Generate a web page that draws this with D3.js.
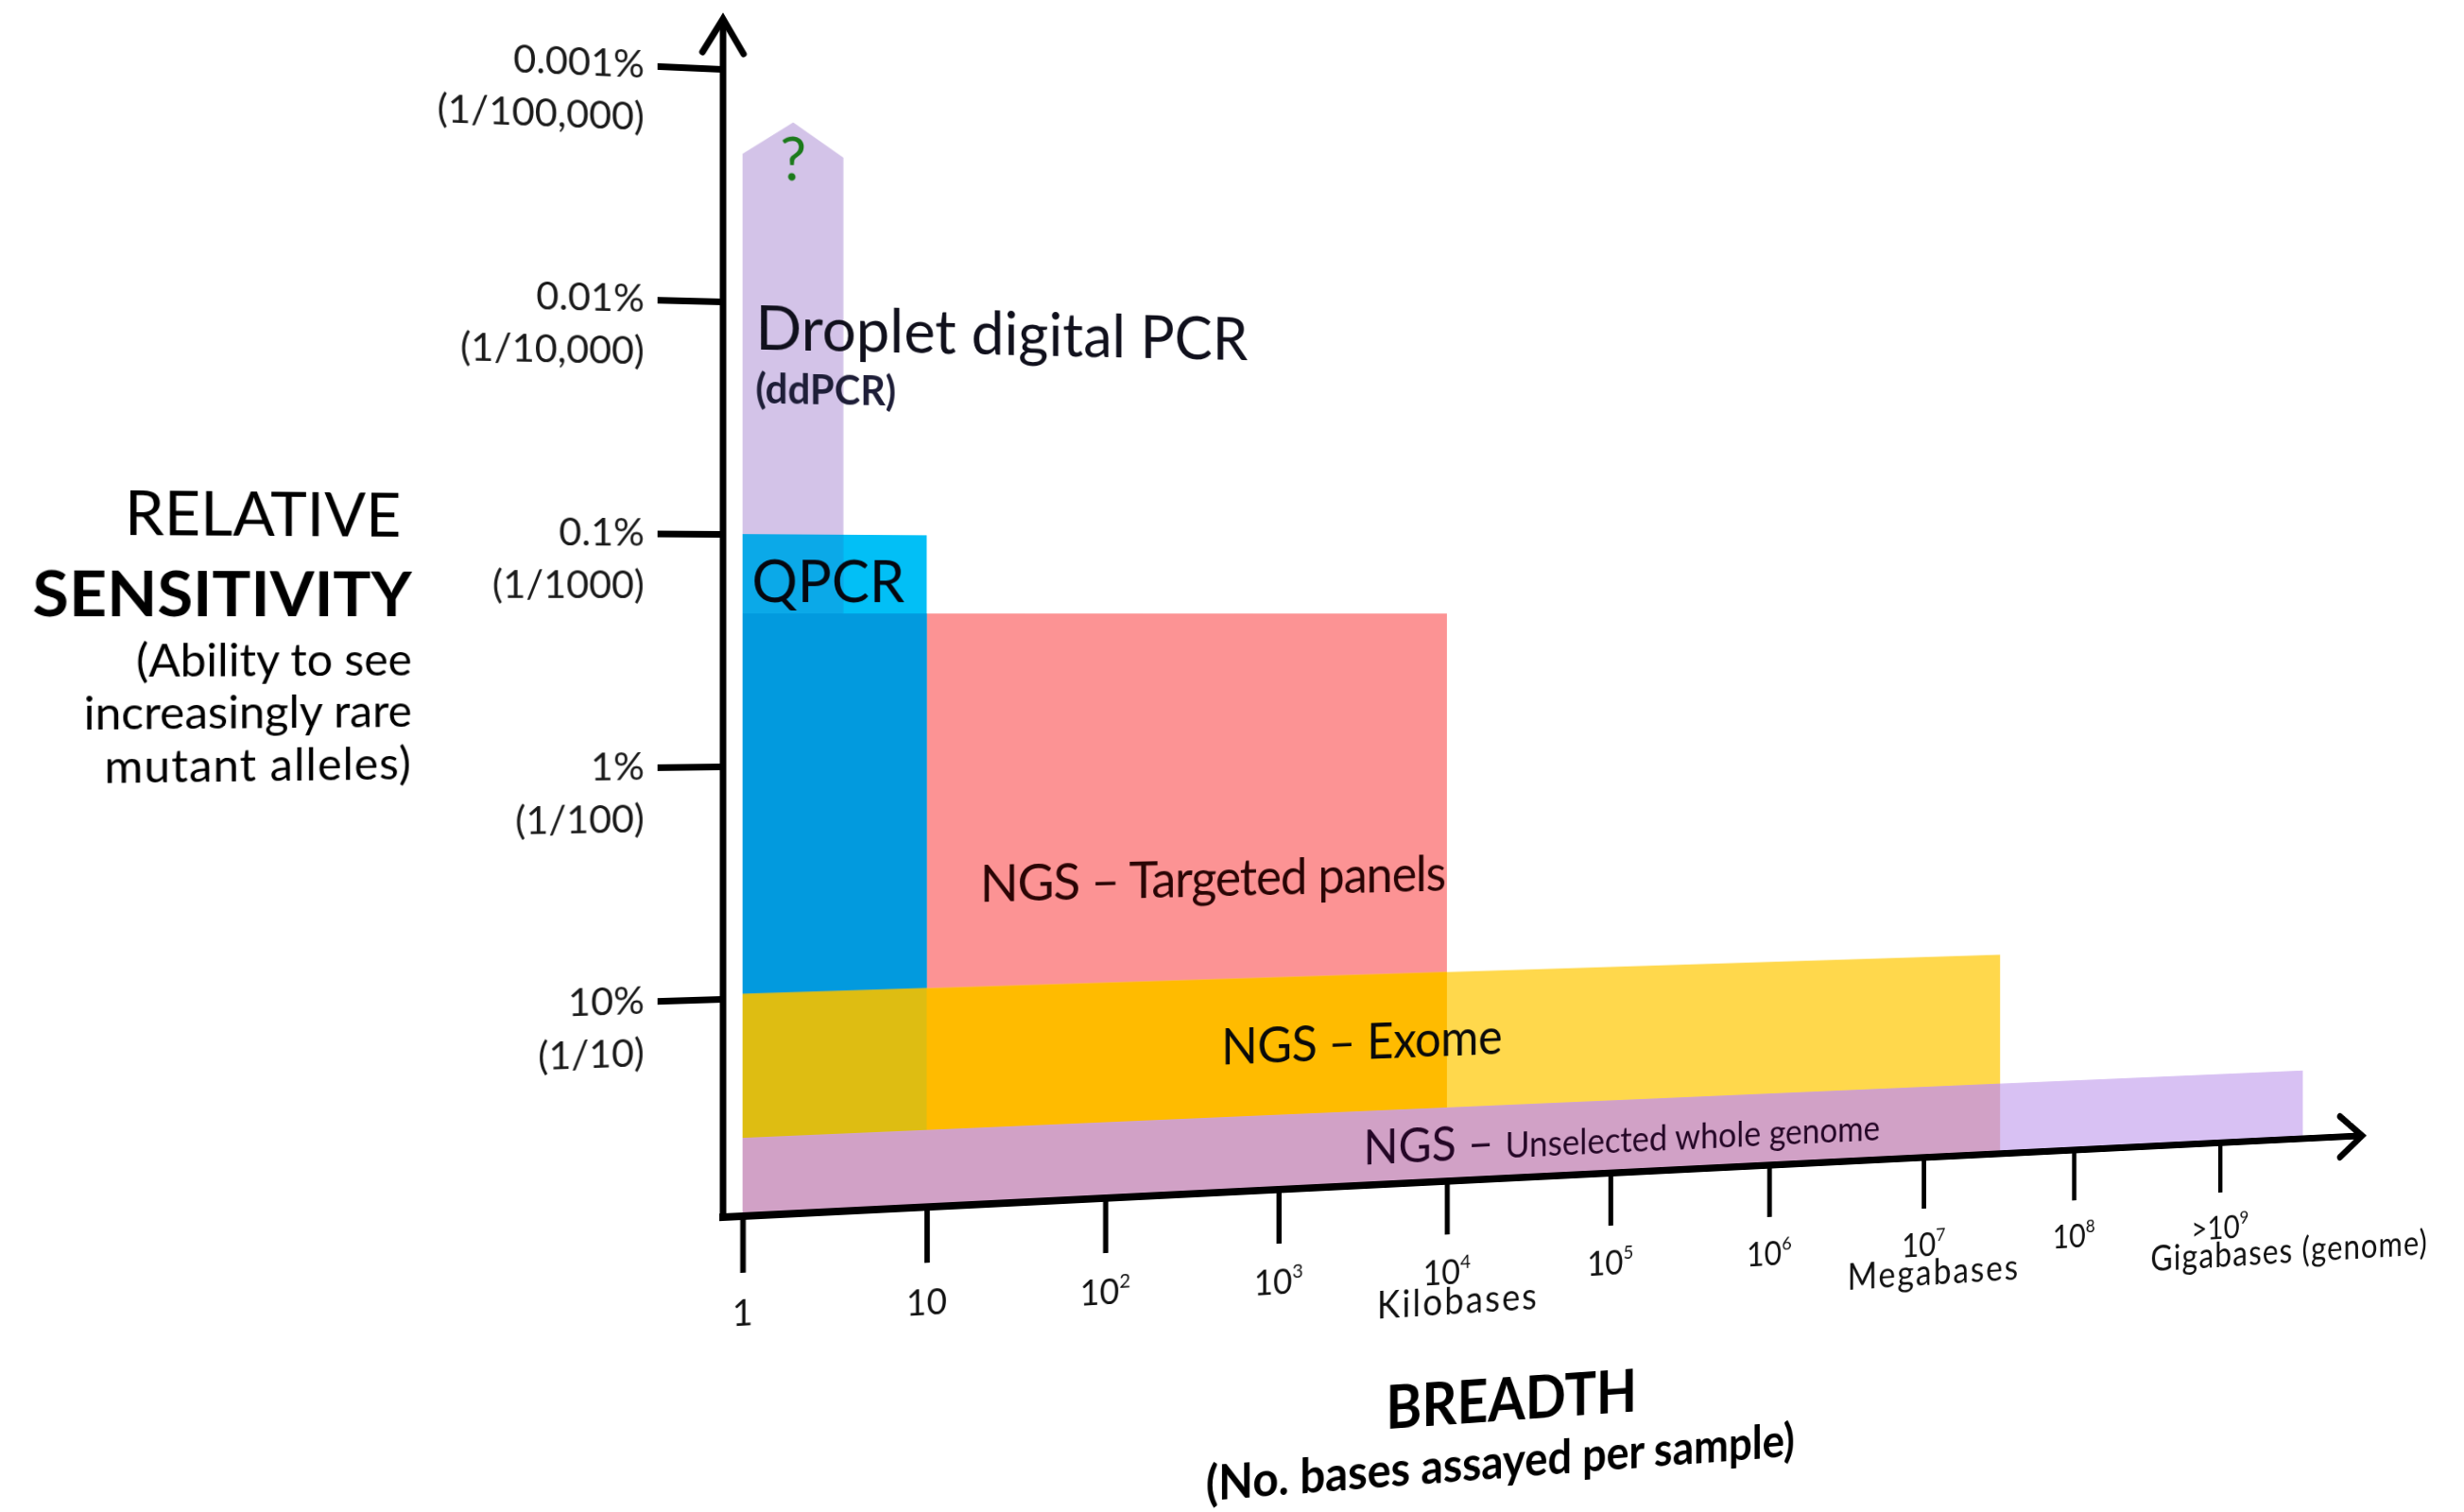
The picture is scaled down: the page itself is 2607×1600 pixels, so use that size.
<!DOCTYPE html>
<html>
<head>
<meta charset="utf-8">
<script src="https://cdn.jsdelivr.net/npm/d3@7"></script>
<style>
  html, body { margin: 0; padding: 0; background: #ffffff; overflow: hidden; width: 2607px; height: 1600px; }
  #chart { position: absolute; left: 0; top: 0; }
  #chart text { font-family: Lato, "Open Sans", "DejaVu Sans", sans-serif; }
</style>
</head>
<body>
<svg id="chart"></svg>
<script>
// ---- Breadth axis (bases assayed per sample, log10) ----
const breadthTicks = [1, 10, 1e2, 1e3, 1e4, 1e5, 1e6, 1e7, 1e8, 1e9];
const breadthBase  = ["1", "10", "10", "10", "10", "10", "10", "10", "10", ">10"];
const breadthExp   = ["", "", "2", "3", "4", "5", "6", "7", "8", "9"];
const breadthUnits = ["", "", "", "", "Kilobases", "", "", "Megabases", "", "Gigabases (genome)"];

// ---- Sensitivity axis (mutant allele fraction, log10) ----
const sensitivityTicks = [1e-5, 1e-4, 1e-3, 1e-2, 1e-1];
const sensitivityPct   = ["0.001%", "0.01%", "0.1%", "1%", "10%"];
const sensitivityRatio = ["(1/100,000)", "(1/10,000)", "(1/1000)", "(1/100)", "(1/10)"];

// ---- Methods: breadth range and best detectable allele fraction ----
const methods         = ["ddPCR", "QPCR", "Targeted", "Exome", "Genome"];
const methodMinBases  = [1, 1, 1, 1, 1];
const methodMaxBases  = [3.5, 10, 1e4, 3.2e7, 3.8e9];
const methodBestFrac  = [2.3e-5, 1e-3, 2.2e-3, 0.096, 0.4];
const ddpcrOpenEnd    = 1.65e-5;   // open-ended upper limit drawn as a point

// ---- Styles ----
const stackOrder   = ["ddPCR", "Targeted", "QPCR", "Exome", "Genome"];
const methodColors = { ddPCR: "#d3c3e8", QPCR: "#02bff6", Targeted: "#fc9394", Exome: "#ffd84c", Genome: "#d8c1f3" };
const overlapTints = [
  ["QPCR", "ddPCR", "#0ba9e8"],
  ["QPCR", "Targeted", "#029ade"],
  ["Exome", "Targeted", "#ffbb00"],
  ["Exome", "QPCR", "#debd12"],
  ["Genome", "Exome", "#d1a1c6"]
];

// ---- Layout ----
const W = 2900, H = 1750;
const axisX = 765, horizonY = 650, baseY = 1288;

const svg = d3.select("#chart")
  .attr("width", W).attr("height", H)
  .style("transform-origin", `${axisX}px ${horizonY}px`)
  .style("transform", "perspective(2264px) rotateY(10deg)");

const x = d3.scaleLog().domain([1, 1e10]).range([786, 2801]);
const y = d3.scaleLog().domain([1e-5, 1e-1]).range([73, 1057]);

const bands = methods.map((m, i) => ({
  name: m, lo: methodMinBases[i], hi: methodMaxBases[i], top: methodBestFrac[i]
}));
const byName = Object.fromEntries(bands.map(b => [b.name, b]));
const tintOf = (upper, lower) => {
  const t = overlapTints.find(d => d[0] === upper && d[1] === lower);
  return t ? t[2] : null;
};

// ---- Method bands, back to front, with tinted overlaps ----
const gBands = svg.append("g");
stackOrder.forEach((name, k) => {
  const b = byName[name];
  if (name === "ddPCR") {
    const mid = Math.sqrt(b.lo * b.hi);
    const pts = [[x(b.lo), baseY], [x(b.lo), y(b.top)], [x(mid), y(ddpcrOpenEnd)], [x(b.hi), y(b.top)], [x(b.hi), baseY]];
    gBands.append("path").attr("d", d3.line()(pts) + "Z").attr("fill", methodColors[name]);
  } else {
    gBands.append("rect")
      .attr("x", x(b.lo)).attr("y", y(b.top))
      .attr("width", x(b.hi) - x(b.lo)).attr("height", baseY - y(b.top))
      .attr("fill", methodColors[name]);
  }
  stackOrder.slice(0, k).forEach(lowerName => {
    const tint = tintOf(name, lowerName);
    if (!tint) return;
    const l = byName[lowerName];
    const lo = Math.max(b.lo, l.lo), hi = Math.min(b.hi, l.hi);
    const top = Math.max(b.top, l.top);
    if (lo >= hi) return;
    gBands.append("rect")
      .attr("x", x(lo)).attr("y", y(top))
      .attr("width", x(hi) - x(lo)).attr("height", baseY - y(top))
      .attr("fill", tint);
  });
});

// ---- Axes ----
const gX = svg.append("g").attr("transform", `translate(0,${baseY})`)
  .call(d3.axisBottom(x).tickValues(breadthTicks).tickSize(60).tickSizeOuter(0).tickFormat(() => ""));
gX.select(".domain").remove();
gX.selectAll(".tick text").remove();
gX.selectAll(".tick line").attr("stroke", "#000").attr("stroke-width", 6);

const gY = svg.append("g").attr("transform", `translate(${axisX},0)`)
  .call(d3.axisLeft(y).tickValues(sensitivityTicks).tickSize(70).tickSizeOuter(0).tickFormat(() => ""));
gY.select(".domain").remove();
gY.selectAll(".tick text").remove();
gY.selectAll(".tick line").attr("stroke", "#000").attr("stroke-width", 7);

// axis lines with open arrowheads
const yTip = y(1e-5) - 53;
svg.append("line").attr("x1", axisX).attr("x2", axisX).attr("y1", baseY + 4).attr("y2", yTip)
  .attr("stroke", "#000").attr("stroke-width", 7);
svg.append("path").attr("d", d3.line()([[axisX - 22, yTip + 36], [axisX, yTip], [axisX + 22, yTip + 36]]))
  .attr("fill", "none").attr("stroke", "#000").attr("stroke-width", 7)
  .attr("stroke-linecap", "round").attr("stroke-linejoin", "miter");

const xTip = x(1e10);
svg.append("line").attr("x1", axisX - 4).attr("x2", xTip).attr("y1", baseY).attr("y2", baseY)
  .attr("stroke", "#000").attr("stroke-width", 8);
svg.append("path").attr("d", d3.line()([[xTip - 32, baseY - 25], [xTip, baseY], [xTip - 32, baseY + 25]]))
  .attr("fill", "none").attr("stroke", "#000").attr("stroke-width", 8)
  .attr("stroke-linecap", "round").attr("stroke-linejoin", "miter");

// ---- Sensitivity tick labels ----
const gYL = svg.append("g").attr("fill", "#1a1a1a").attr("font-size", 41).attr("text-anchor", "end");
sensitivityTicks.forEach((v, i) => {
  gYL.append("text").attr("x", 681).attr("y", y(v) + 13).text(sensitivityPct[i]);
  gYL.append("text").attr("x", 681).attr("y", y(v) + 68).text(sensitivityRatio[i]);
});

// ---- Breadth tick labels ----
const gXL = svg.append("g").attr("fill", "#111").attr("text-anchor", "middle");
breadthTicks.forEach((v, i) => {
  const t = gXL.append("text").attr("x", x(v)).attr("y", baseY + 116).attr("font-size", 39);
  t.append("tspan").text(breadthBase[i]);
  if (breadthExp[i]) t.append("tspan").attr("font-size", 22).attr("dy", -17).text(breadthExp[i]);
  if (breadthUnits[i]) {
    const last = i === breadthTicks.length - 1;
    gXL.append("text").attr("x", x(v) + (last ? 100 : 14)).attr("y", baseY + 150)
      .attr("font-size", 42).attr("letter-spacing", last ? 1.5 : 2.5).text(breadthUnits[i]);
  }
});

// ---- Axis titles ----
const gT = svg.append("g").attr("fill", "#000").attr("text-anchor", "end");
gT.append("text").attr("x", 428).attr("y", 570).attr("font-size", 62).text("RELATIVE");
gT.append("text").attr("x", 439).attr("y", 652).attr("font-size", 64).attr("font-weight", 700).text("SENSITIVITY");
gT.append("text").attr("x", 439).attr("y", 713).attr("font-size", 46).text("(Ability to see");
gT.append("text").attr("x", 439).attr("y", 766).attr("font-size", 46).text("increasingly rare");
gT.append("text").attr("x", 439).attr("y", 820).attr("font-size", 46).attr("letter-spacing", 1).text("mutant alleles)");

const bCenter = x(10 ** 4.4);
svg.append("text").attr("x", bCenter).attr("y", 1562).attr("text-anchor", "middle")
  .attr("font-size", 66).attr("font-weight", 700).text("BREADTH");
svg.append("text").attr("x", bCenter - 6).attr("y", 1627).attr("text-anchor", "middle")
  .attr("font-size", 53).attr("font-weight", 700).text("(No. bases assayed per sample)");

// ---- Method labels ----
const dd = byName.ddPCR, qp = byName.QPCR, ex = byName.Exome, ge = byName.Genome, tg = byName.Targeted;
svg.append("text").attr("x", x(Math.sqrt(dd.lo * dd.hi))).attr("y", y(dd.top) + 26)
  .attr("text-anchor", "middle").attr("font-size", 64).attr("fill", "#1b7a1b").text("?");
svg.append("text").attr("x", x(1) + 14).attr("y", y(1e-4) + 50)
  .attr("font-size", 66).attr("fill", "#10101c").text("Droplet digital PCR");
svg.append("text").attr("x", x(1) + 14).attr("y", y(1e-4) + 107)
  .attr("font-size", 43).attr("font-weight", 700).attr("fill", "#1e1e38").text("(ddPCR)");
svg.append("text").attr("x", x(qp.lo) + 10).attr("y", y(qp.top) + 72)
  .attr("font-size", 62).attr("fill", "#05070f").text("QPCR");
svg.append("text").attr("x", x(tg.hi) - 2).attr("y", y(ex.top) - 92).attr("text-anchor", "end")
  .attr("font-size", 57).attr("letter-spacing", -1.2).attr("fill", "#2a0505").text("NGS \u2013 Targeted panels");
svg.append("text").attr("x", x(10 ** 3.5)).attr("y", (y(ex.top) + y(ge.top)) / 2 + 18).attr("text-anchor", "middle")
  .attr("font-size", 56).attr("letter-spacing", -0.5).attr("fill", "#0a0a0a").text("NGS \u2013 Exome");
const gl = svg.append("text").attr("x", x(10 ** 3.5)).attr("y", (y(ge.top) + baseY) / 2 + 18)
  .attr("fill", "#240626");
gl.append("tspan").attr("font-size", 55).text("NGS \u2013 ");
gl.append("tspan").attr("font-size", 41).text("Unselected whole genome");
</script>
</body>
</html>
